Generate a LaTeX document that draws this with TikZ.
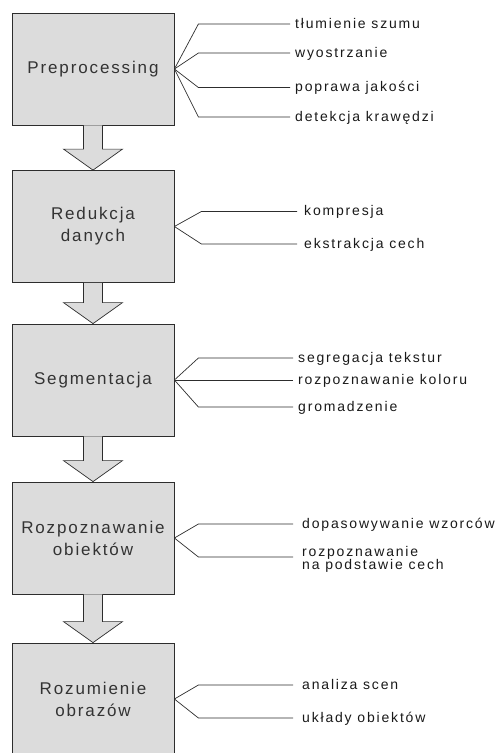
\documentclass[tikz,border=0pt]{standalone}
\usepackage{fontspec}
\setmainfont{Liberation Sans}
\newfontfamily\boxfont[LetterSpace=11]{Liberation Sans}
\newfontfamily\labfont[LetterSpace=13]{Liberation Sans}
\usetikzlibrary{calc}
\definecolor{boxgray}{RGB}{220,220,220}
\definecolor{edgegray}{RGB}{45,45,45}
\newcommand\flowarr[2]{%
  \fill[boxgray] ($(#1.south)+(-9.5,0)$) -- ($(#2.north)+(-9.5,-21)$) -- ($(#2.north)+(-29.5,-21)$) -- (#2.north) -- ($(#2.north)+(29.5,-21)$) -- ($(#2.north)+(9.5,-21)$) -- ($(#1.south)+(9.5,0)$) -- cycle;
  \draw[flowline] ($(#1.south)+(-9.5,0)$) -- ($(#2.north)+(-9.5,-21)$) -- ($(#2.north)+(-29.5,-21)$) -- (#2.north) -- ($(#2.north)+(29.5,-21)$) -- ($(#2.north)+(9.5,-21)$) -- ($(#1.south)+(9.5,0)$);
}
\begin{document}
\begin{tikzpicture}[x=1pt,y=-1pt,
  stage/.style={draw=edgegray, fill=boxgray, line width=0.8pt, minimum width=162pt, minimum height=112pt, inner sep=0pt, align=center, font=\boxfont\fontsize{17}{22}\selectfont, text=black!80},
  leaf/.style={anchor=west, inner xsep=#1, inner ysep=0pt, align=left, font=\labfont\fontsize{14}{13.5}\selectfont, text=black!90},
  leaf/.default=5pt,
  oneline/.style={text height=8.6pt, text depth=0pt},
  link/.style={draw=edgegray, line width=0.7pt},
  flowline/.style={draw=edgegray, line width=0.7pt, line join=miter}]
\clip (0,0) rectangle (500,753);
\useasboundingbox (0,0) rectangle (500,753);

% stages
\node[stage] (b1) at (93,69) {Preprocessing};
\node[stage] (b2) at (93,226.5) {Redukcja\\danych};
\node[stage] (b3) at (93,380) {Segmentacja};
\node[stage] (b4) at (93,538) {Rozpoznawanie\\obiektów};
\node[stage] (b5) at (93,699) {Rozumienie\\obrazów};

% arrows
\flowarr{b1}{b2}
\flowarr{b2}{b3}
\flowarr{b3}{b4}
\flowarr{b4}{b5}

% labels box 1
\node[leaf,oneline] (l11) at (290,24) {tłumienie szumu};
\node[leaf,oneline] (l12) at (290,53) {wyostrzanie};
\node[leaf,oneline] (l13) at (290,87.5) {poprawa jakości};
\node[leaf,oneline] (l14) at (290,117) {detekcja krawędzi};
\foreach \n in {l11,l12,l13,l14}
  \draw[link] (b1.east) -- ([xshift=24pt]b1.east |- \n.west) -- (\n.west);

% labels box 2
\node[leaf=7pt,oneline] (l21) at (297,211.5) {kompresja};
\node[leaf=7pt,oneline] (l22) at (297,244) {ekstrakcja cech};
\foreach \n in {l21,l22}
  \draw[link] (b2.east) -- ([xshift=27pt]b2.east |- \n.west) -- (\n.west);

% labels box 3
\node[leaf,oneline] (l31) at (293,358) {segregacja tekstur};
\node[leaf,oneline] (l32) at (293,380) {rozpoznawanie koloru};
\node[leaf,oneline] (l33) at (293,407) {gromadzenie};
\foreach \n in {l31,l33}
  \draw[link] (b3.east) -- ([xshift=24pt]b3.east |- \n.west) -- (\n.west);
\draw[link] (b3.east) -- (l32.west);

% labels box 4
\node[leaf=9pt,oneline] (l41) at (293,524) {dopasowywanie wzorców};
\node[leaf=9pt] (l42) at (293,559.5) {rozpoznawanie\\na podstawie cech};
\draw[link] (b4.east) -- ([xshift=24pt]b4.east |- l41.west) -- (l41.west);
\draw[link] (b4.east) -- ([xshift=24pt,yshift=2.5pt]b4.east |- l42.west) -- ([yshift=2.5pt]l42.west);

% labels box 5
\node[leaf=9pt,oneline] (l51) at (293,685) {analiza scen};
\node[leaf=9pt,oneline] (l52) at (293,718) {układy obiektów};
\foreach \n in {l51,l52}
  \draw[link] (b5.east) -- ([xshift=24pt]b5.east |- \n.west) -- (\n.west);
\end{tikzpicture}
\end{document}
